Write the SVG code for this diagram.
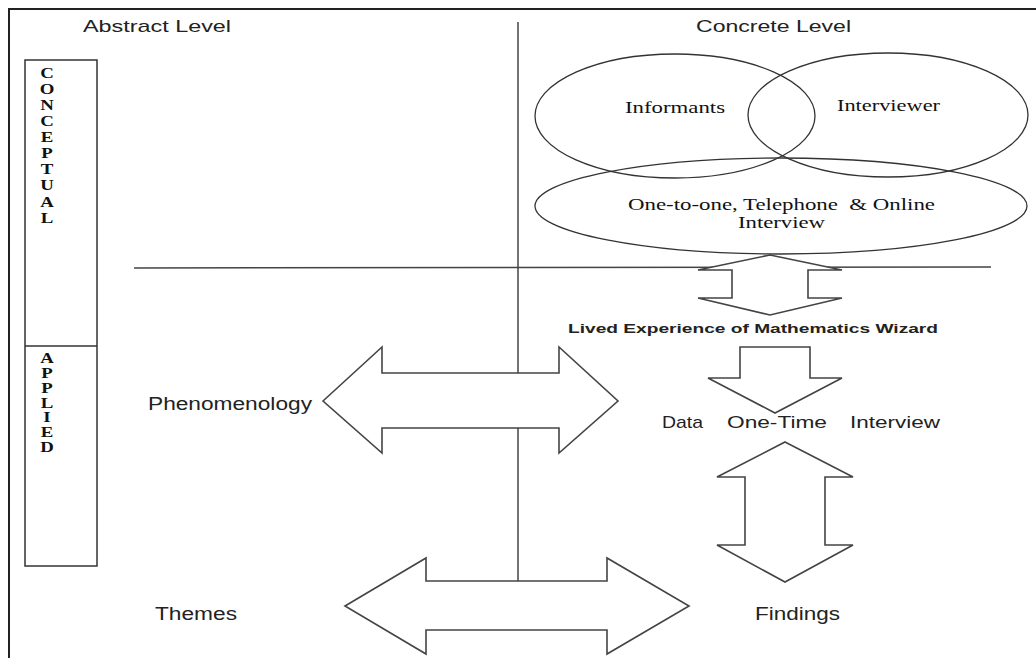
<svg xmlns="http://www.w3.org/2000/svg" width="1036" height="658" viewBox="0 0 1036 658">
<style>
.frame{fill:none;stroke:#222;stroke-width:2}
.ln{fill:none;stroke:#444;stroke-width:1.5}
.ell{fill:none;stroke:#333;stroke-width:1.3}
.arr{fill:#fff;stroke:#444;stroke-width:1.6;stroke-linejoin:miter}
.sans{font-family:"Liberation Sans",Arial,sans-serif;fill:#222}
.serif{font-family:"Liberation Serif","Times New Roman",serif;fill:#111}
.let{font-family:"Liberation Serif","Times New Roman",serif;font-weight:bold;font-size:14.5px;fill:#111;text-anchor:middle}
</style>
<rect width="1036" height="658" fill="#fff"/>
<g id="frame">
<path class="frame" d="M9,658 V9 H1036"/>
</g>
<g id="abstract-level"><text class="sans" x="83" y="32" font-size="17" textLength="148" lengthAdjust="spacingAndGlyphs">Abstract Level</text></g>
<g id="concrete-level"><text class="sans" x="696" y="32" font-size="17" textLength="155" lengthAdjust="spacingAndGlyphs">Concrete Level</text></g>
<g id="levels-box">
<rect x="25" y="60" width="72" height="506" fill="none" stroke="#333" stroke-width="1.5"/>
<line x1="25" y1="346" x2="97" y2="346" stroke="#333" stroke-width="1.5"/>
<g transform="translate(47,0) scale(1.3,1)">
<text class="let"><tspan x="0" y="78">C</tspan><tspan x="0" y="94">O</tspan><tspan x="0" y="110">N</tspan><tspan x="0" y="126">C</tspan><tspan x="0" y="142">E</tspan><tspan x="0" y="158">P</tspan><tspan x="0" y="174">T</tspan><tspan x="0" y="190">U</tspan><tspan x="0" y="207">A</tspan><tspan x="0" y="223">L</tspan></text>
<text class="let"><tspan x="0" y="363">A</tspan><tspan x="0" y="378">P</tspan><tspan x="0" y="393">P</tspan><tspan x="0" y="408">L</tspan><tspan x="0" y="422">I</tspan><tspan x="0" y="437">E</tspan><tspan x="0" y="452">D</tspan></text>
</g>
</g>
<g id="connectors">
<line class="ln" x1="518" y1="22" x2="518" y2="581"/>
<line class="ln" x1="134" y1="268" x2="991" y2="267"/>
<polygon class="arr" points="770,255 842,270 808,270 808,298 842,298 770,315 698,298 732,298 732,270 698,270"/>
<polygon class="arr" points="740,347 810,347 810,378 842,378 775,413 708,378 740,378"/>
<polygon class="arr" points="785,442 853,477 825,477 825,545 853,545 785,582 717,545 745,545 745,477 717,477"/>
<polygon class="arr" points="323,401 382,347 382,373 559,373 559,347 618,401 559,453 559,428 382,428 382,453"/>
<polygon class="arr" points="345,606 426,558 426,581 607,581 607,558 689,606 607,654 607,630 426,630 426,654"/>
</g>
<g id="informants">
<ellipse class="ell" cx="675" cy="116" rx="140" ry="62"/>
<text class="serif" x="625" y="113" font-size="16" textLength="100" lengthAdjust="spacingAndGlyphs">Informants</text>
</g>
<g id="interviewer">
<ellipse class="ell" cx="888" cy="115" rx="140" ry="62"/>
<text class="serif" x="837" y="111" font-size="16" textLength="103" lengthAdjust="spacingAndGlyphs">Interviewer</text>
</g>
<g id="interview-modes">
<ellipse class="ell" cx="781" cy="206" rx="246" ry="48"/>
<text class="serif" font-size="16"><tspan x="628" y="210" textLength="307" lengthAdjust="spacingAndGlyphs">One-to-one, Telephone &#160;&amp; Online</tspan><tspan x="738" y="228" textLength="87" lengthAdjust="spacingAndGlyphs">Interview</tspan></text>
</g>
<g id="lived-experience"><text class="sans" x="568" y="333" font-size="13" font-weight="bold" textLength="370" lengthAdjust="spacingAndGlyphs">Lived Experience of Mathematics Wizard</text></g>
<g id="data-interview"><text class="sans" font-size="17"><tspan x="662" y="428" textLength="41" lengthAdjust="spacingAndGlyphs">Data</tspan><tspan x="727" y="428" textLength="100" lengthAdjust="spacingAndGlyphs">One-Time</tspan><tspan x="850" y="428" textLength="90" lengthAdjust="spacingAndGlyphs">Interview</tspan></text></g>
<g id="phenomenology"><text class="sans" x="148" y="410" font-size="18" textLength="164" lengthAdjust="spacingAndGlyphs">Phenomenology</text></g>
<g id="themes"><text class="sans" x="155" y="620" font-size="18" textLength="82" lengthAdjust="spacingAndGlyphs">Themes</text></g>
<g id="findings"><text class="sans" x="755" y="620" font-size="18" textLength="85" lengthAdjust="spacingAndGlyphs">Findings</text></g>
</svg>
